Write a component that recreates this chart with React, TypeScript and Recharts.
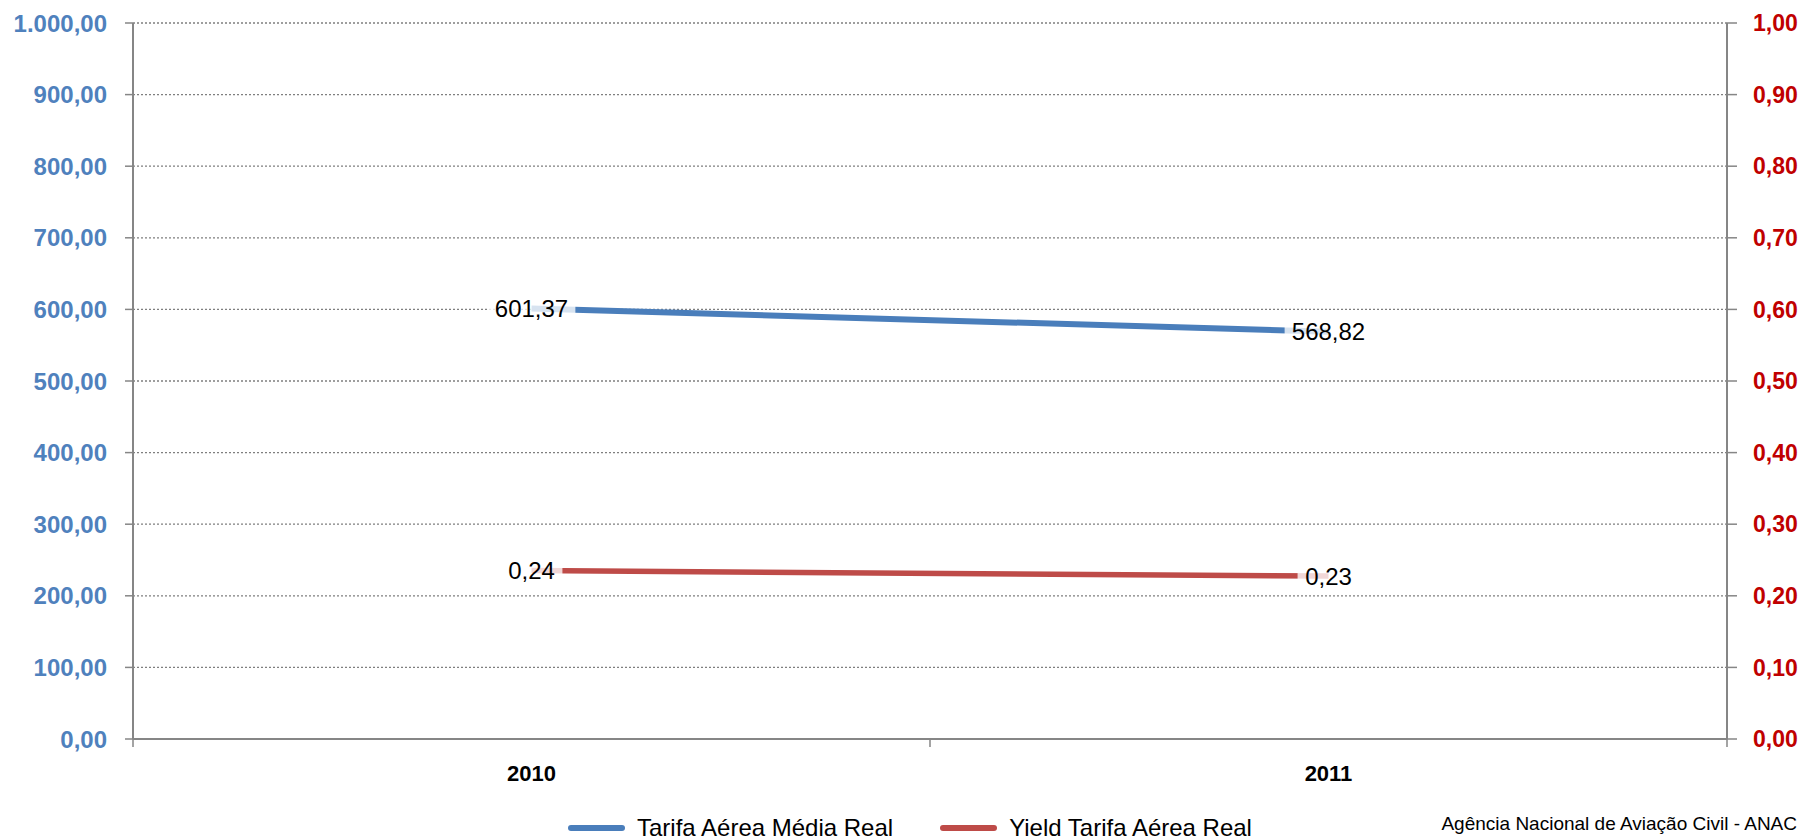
import React from "react";
import {
  LineChart,
  Line,
  XAxis,
  YAxis,
  CartesianGrid,
  LabelList,
} from "recharts";

const years = ["2010", "2011"];
const tarifaMedia = [601.37, 568.82];
const yieldTarifa = [0.2352, 0.2275];
const leftTicks = [0, 100, 200, 300, 400, 500, 600, 700, 800, 900, 1000];
const rightTicks = [0, 0.1, 0.2, 0.3, 0.4, 0.5, 0.6, 0.7, 0.8, 0.9, 1.0];
const seriesNames = ["Tarifa Aérea Média Real", "Yield Tarifa Aérea Real"];
const sourceText = "Agência Nacional de Aviação Civil - ANAC";

const BLUE_LINE = "#4A7EBB";
const RED_LINE = "#BE4B48";
const BLUE_TEXT = "#4F81BD";
const RED_TEXT = "#C00000";
const AXIS = "#868686";
const FONT = '"Liberation Sans", Arial, sans-serif';

const X_TICK_SIZE = 8;
const X_TICK_MARGIN = 18;

const data = years.map((y, i) => ({
  year: y,
  tarifa: tarifaMedia[i],
  yield: yieldTarifa[i],
}));

function fmt(v: number, decimals = 2): string {
  const fixed = Math.abs(v).toFixed(decimals);
  const [intPart, dec] = fixed.split(".");
  const withThousands = intPart.replace(/\B(?=(\d{3})+(?!\d))/g, ".");
  return (v < 0 ? "-" : "") + withThousands + (dec ? "," + dec : "");
}

const DataLabel = (props: any) => {
  const { x, y, value } = props;
  if (x == null || y == null) return null;
  const txt = fmt(Number(value), 2);
  const fs = 24;
  const w = txt.length * fs * 0.54 + 10;
  const h = fs + 2;
  return (
    <g>
      <rect
        x={x - w / 2}
        y={y - h / 2}
        width={w}
        height={h}
        fill="#ffffff"
        fillOpacity={0.78}
      />
      <text
        x={x}
        y={y}
        textAnchor="middle"
        dominantBaseline="central"
        fontSize={fs}
        fill="#000000"
        fontFamily={FONT}
      >
        {txt}
      </text>
    </g>
  );
};

// Category tick: label at band centre, tick marks on band boundaries
const CategoryTick = (props: any) => {
  const { x, y, payload, index, visibleTicksCount, width } = props;
  const count = visibleTicksCount || years.length;
  const half =
    payload && typeof payload.offset === "number" && payload.offset > 0
      ? payload.offset
      : width / count / 2;
  const axisY = y - X_TICK_SIZE - X_TICK_MARGIN;
  const marks = [x - half];
  if (index === count - 1) marks.push(x + half);
  return (
    <g>
      {marks.map((mx, i) => (
        <line
          key={i}
          x1={mx}
          x2={mx}
          y1={axisY}
          y2={axisY + X_TICK_SIZE}
          stroke={AXIS}
          strokeWidth={1.5}
        />
      ))}
      <text
        x={x}
        y={y}
        dy="0.71em"
        textAnchor="middle"
        fontSize={22}
        fontWeight="bold"
        fill="#000000"
        fontFamily={FONT}
      >
        {payload.value}
      </text>
    </g>
  );
};

export default function App() {
  return (
    <div
      style={{
        position: "absolute",
        left: 0,
        top: 0,
        width: 1804,
        height: 840,
        background: "#ffffff",
        fontFamily: FONT,
        overflow: "hidden",
      }}
    >
      <LineChart
        width={1804}
        height={840}
        data={data}
        margin={{ top: 23, right: 0, left: 0, bottom: 61 }}
      >
        <CartesianGrid
          yAxisId="left"
          vertical={false}
          horizontal={true}
          stroke="#7f7f7f"
          strokeWidth={1.3}
          strokeDasharray="2 2"
        />
        <XAxis
          dataKey="year"
          scale="band"
          interval={0}
          axisLine={{ stroke: AXIS, strokeWidth: 2 }}
          tickLine={false}
          tickSize={X_TICK_SIZE}
          tickMargin={X_TICK_MARGIN}
          height={40}
          tick={<CategoryTick />}
        />
        <YAxis
          yAxisId="left"
          orientation="left"
          width={133}
          domain={[0, 1000]}
          ticks={leftTicks}
          interval={0}
          tickFormatter={(v: number) => fmt(v, 2)}
          tickSize={8}
          tickMargin={18}
          axisLine={{ stroke: AXIS, strokeWidth: 2 }}
          tickLine={{ stroke: AXIS, strokeWidth: 1.5 }}
          tick={{ fill: BLUE_TEXT, fontSize: 24, fontWeight: "bold" }}
        />
        <YAxis
          yAxisId="right"
          orientation="right"
          width={77}
          domain={[0, 1]}
          ticks={rightTicks}
          interval={0}
          tickFormatter={(v: number) => fmt(v, 2)}
          tickSize={10}
          tickMargin={16}
          axisLine={{ stroke: AXIS, strokeWidth: 2 }}
          tickLine={{ stroke: AXIS, strokeWidth: 1.5 }}
          tick={{ fill: RED_TEXT, fontSize: 23, fontWeight: "bold" }}
        />
        <Line
          yAxisId="left"
          dataKey="tarifa"
          name={seriesNames[0]}
          stroke={BLUE_LINE}
          strokeWidth={6}
          dot={false}
          activeDot={false}
          type="linear"
          isAnimationActive={false}
        >
          <LabelList dataKey="tarifa" content={DataLabel} />
        </Line>
        <Line
          yAxisId="right"
          dataKey="yield"
          name={seriesNames[1]}
          stroke={RED_LINE}
          strokeWidth={5.5}
          dot={false}
          activeDot={false}
          type="linear"
          isAnimationActive={false}
        >
          <LabelList dataKey="yield" content={DataLabel} />
        </Line>
      </LineChart>

      <div
        style={{
          position: "absolute",
          left: 568,
          top: 816,
          height: 24,
          display: "flex",
          alignItems: "center",
          fontSize: 24,
          lineHeight: "24px",
          color: "#000000",
          whiteSpace: "nowrap",
        }}
      >
        {seriesNames.map((n, i) => (
          <div
            key={n}
            style={{
              display: "flex",
              alignItems: "center",
              marginLeft: i === 0 ? 0 : 47,
            }}
          >
            <span
              style={{
                display: "inline-block",
                width: 57,
                height: 6,
                borderRadius: 3,
                background: i === 0 ? BLUE_LINE : RED_LINE,
                marginRight: 12,
              }}
            />
            <span>{n}</span>
          </div>
        ))}
      </div>

      <div
        style={{
          position: "absolute",
          right: 7,
          top: 814,
          fontSize: 19,
          lineHeight: "19px",
          color: "#000000",
          whiteSpace: "nowrap",
        }}
      >
        {sourceText}
      </div>
    </div>
  );
}
